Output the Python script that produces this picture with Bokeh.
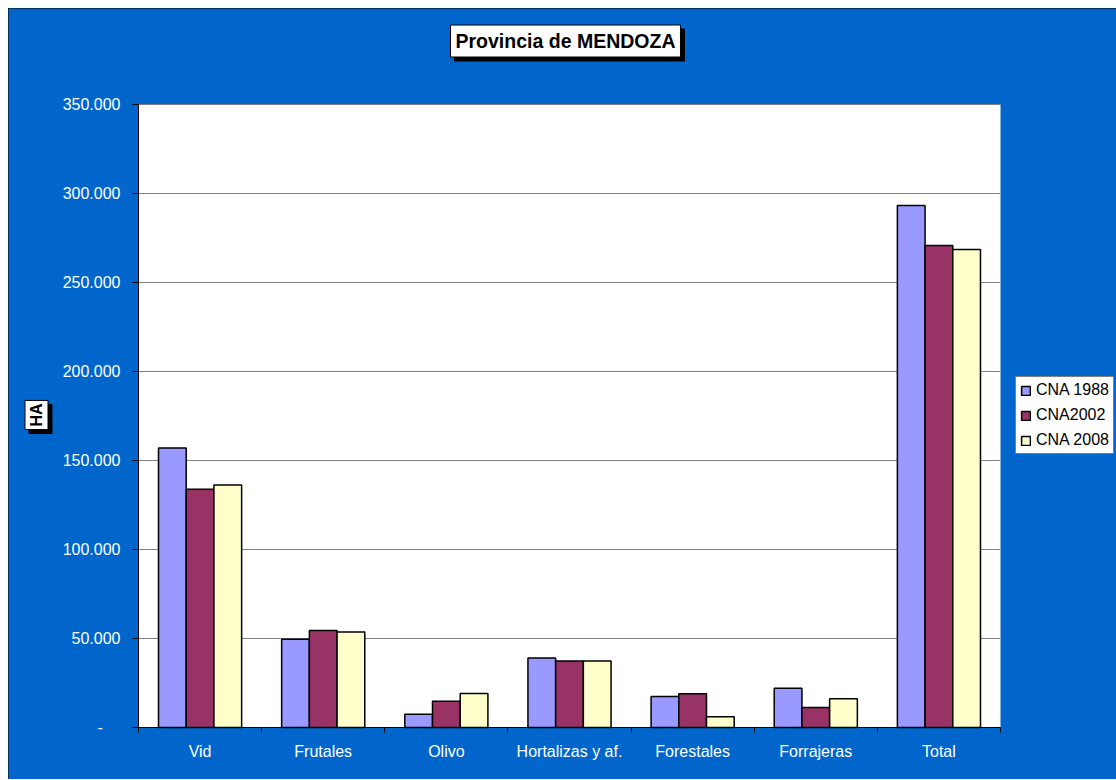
import math
from bokeh.plotting import figure
from bokeh.models import (Range1d, FixedTicker, Legend, LegendItem, Label, ColumnDataSource)
from bokeh.embed import file_html
from bokeh.resources import INLINE

# ---- data ----
categories = ["Vid", "Frutales", "Olivo", "Hortalizas y af.", "Forestales", "Forrajeras", "Total"]
series_names = ["CNA 1988", "CNA2002", "CNA 2008"]
cna1988 = [157000, 49600, 7400, 39100, 17400, 22100, 293200]
cna2002 = [133900, 54500, 14800, 37400, 18900, 11200, 270800]
cna2008 = [136300, 53700, 19100, 37400, 6000, 16100, 268500]
y_ticks = [0, 50000, 100000, 150000, 200000, 250000, 300000, 350000]
y_tick_labels = ["-\u00a0\u00a0\u00a0\u00a0", "50.000", "100.000", "150.000", "200.000",
                 "250.000", "300.000", "350.000"]
title_text = "Provincia de MENDOZA"
y_title = "HA"

colors = ["#9999FF", "#993366", "#FFFFCC"]
BLUE = "#0066CC"
FONT = "Liberation Sans"

# ---- layout geometry (pixels inside the canvas) ----
W, H = 1108, 771
PL, PR, PT, PB = 130, 992, 96, 719          # plot-area edges
ncat = len(categories)
ymax = y_ticks[-1]
xpp = ncat / (PR - PL)                        # data units per pixel (x)
ypp = ymax / (PB - PT)                        # data units per pixel (y)
x_range = Range1d(-PL * xpp, ncat + (W - PR) * xpp)
y_range = Range1d(-(H - PB) * ypp, ymax + PT * ypp)

p = figure(width=W, height=H, output_backend="svg", toolbar_location=None, title=None,
           x_range=x_range, y_range=y_range,
           min_border_left=0, min_border_right=0, min_border_top=0, min_border_bottom=0)
p.margin = (8, 0, 0, 8)
p.styles = {"outline": "1px solid black", "outline-offset": "-1px"}
p.background_fill_color = BLUE
p.border_fill_color = BLUE
p.outline_line_color = None
p.xgrid.visible = False
p.ygrid.visible = False

# plot area
p.quad(left=[0], right=[ncat], bottom=[0], top=[ymax], fill_color="white", line_color=None)
# horizontal gridlines
p.segment(x0=[0] * (len(y_ticks) - 1), x1=[ncat] * (len(y_ticks) - 1),
          y0=y_ticks[1:], y1=y_ticks[1:], line_color="#808080", line_width=1)

centers = [i + 0.5 for i in range(ncat)]
bw = 0.225
offsets = [-bw, 0.0, bw]
renderers = []
for vals, col, off in zip([cna1988, cna2002, cna2008], colors, offsets):
    src = ColumnDataSource(dict(x=[c + off for c in centers], top=vals))
    r = p.vbar(x="x", top="top", width=bw, bottom=0, source=src,
               fill_color=col, line_color="black", line_width=1.5)
    renderers.append(r)

# y axis (fixed at x = 0)
ya = p.yaxis[0]
ya.fixed_location = 0
ya.bounds = (0, ymax)
ya.ticker = FixedTicker(ticks=y_ticks)
ya.major_label_overrides = {t: l for t, l in zip(y_ticks, y_tick_labels)}
ya.major_label_text_color = "white"
ya.major_label_text_font = FONT
ya.major_label_text_font_size = "16px"
ya.major_tick_out = 6
ya.major_tick_in = 0
ya.minor_tick_out = 0
ya.minor_tick_in = 0
ya.major_label_standoff = 12
ya.axis_line_color = "black"
ya.major_tick_line_color = "black"

# x axis (fixed at y = 0)
xa = p.xaxis[0]
xa.fixed_location = 0
xa.bounds = (0, ncat)
xa.ticker = FixedTicker(ticks=centers, minor_ticks=list(range(ncat + 1)))
xa.major_label_overrides = {c: n for c, n in zip(centers, categories)}
xa.major_label_text_color = "white"
xa.major_label_text_font = FONT
xa.major_label_text_font_size = "16px"
xa.major_tick_out = 0
xa.major_tick_in = 0
xa.minor_tick_out = 5
xa.minor_tick_in = 0
xa.minor_tick_line_color = "black"
xa.major_label_standoff = 10
xa.axis_line_color = "black"

# series legend
legend = Legend(items=[LegendItem(label=n, renderers=[r]) for n, r in zip(series_names, renderers)],
                location=(1007, 325), orientation="vertical")
legend.background_fill_color = "white"
legend.background_fill_alpha = 1
legend.border_line_color = "black"
legend.border_line_width = 1
legend.label_text_font = FONT
legend.label_text_font_size = "16px"
legend.label_text_color = "black"
legend.glyph_width = 11
legend.glyph_height = 11
legend.label_standoff = 5
legend.label_height = 18
legend.spacing = 7
legend.padding = 4
legend.margin = 0
p.add_layout(legend)


def px_x(cx):
    return (cx - PL) * xpp


def px_y(cy):
    return (PB - cy) * ypp


# chart title: white box with black drop shadow
for dx, dy, fill in [(4, -4, "black"), (0, 0, "white")]:
    p.add_layout(Label(x=px_x(557), y=px_y(32.5), x_offset=dx, y_offset=dy, text=title_text,
                       text_font=FONT, text_font_size="19.5px", text_font_style="bold",
                       text_color="black", text_align="center", text_baseline="middle",
                       background_fill_color=fill, background_fill_alpha=1,
                       border_line_color="black", border_line_width=1, padding=5))

# value-axis title: rotated "HA" box with drop shadow
for dx, dy, fill in [(4, -4, "black"), (0, 0, "white")]:
    p.add_layout(Label(x=px_x(28), y=px_y(406.5), x_offset=dx, y_offset=dy, text=y_title,
                       angle=math.pi / 2,
                       text_font=FONT, text_font_size="16px", text_font_style="bold",
                       text_color="black", text_align="center", text_baseline="middle",
                       background_fill_color=fill, background_fill_alpha=1,
                       border_line_color="black", border_line_width=1, padding=3))

open("out.html", "w").write(file_html(p, INLINE))
